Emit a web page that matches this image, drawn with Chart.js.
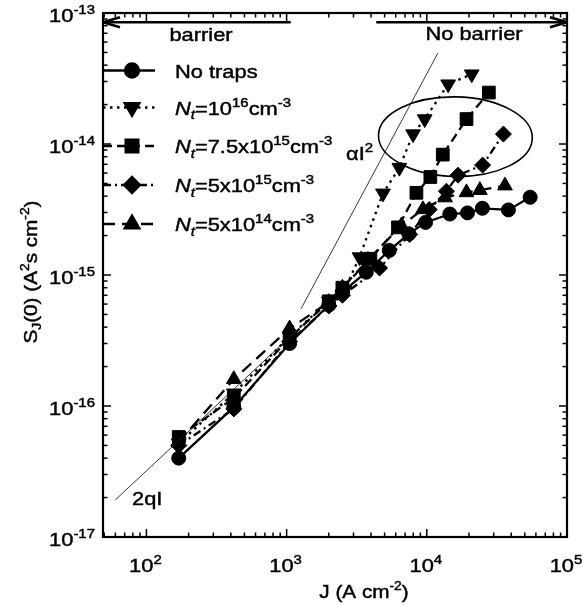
<!DOCTYPE html>
<html>
<head>
<meta charset="utf-8">
<script src="https://cdn.jsdelivr.net/npm/chart.js@4.4.0/dist/chart.umd.min.js"></script>
<style>
  html, body { margin: 0; padding: 0; background: #fff; }
</style>
</head>
<body>
<canvas id="myChart" width="587" height="605"></canvas>
<script>
(() => {
  "use strict";

  // J (A cm^-2) and S_J(0) (A^2 s cm^-2)
  const noTrapsJ = [170, 420, 1050, 2000, 2500, 3700, 5400, 7450, 9800, 14600, 19500, 24900, 38200, 54600];
  const noTrapsS = [4.0e-17, 9.8e-17, 3.0e-16, 5.9e-16, 7.4e-16, 1.05e-15, 1.54e-15, 2.06e-15, 2.52e-15, 2.92e-15, 2.98e-15, 3.23e-15, 3.14e-15, 3.92e-15];

  const nt16J = [170, 420, 1050, 2000, 2580, 3310, 4870, 6370, 7980, 9660, 14200, 20900];
  const nt16S = [5.2e-17, 1.25e-16, 3.4e-16, 6.3e-16, 7.6e-16, 1.37e-15, 4.2e-15, 6.6e-15, 1.19e-14, 1.55e-14, 2.86e-14, 3.41e-14];

  const nt75J = [170, 420, 1050, 2000, 2500, 3960, 6230, 8430, 10600, 13000, 19200, 27700];
  const nt75S = [5.8e-17, 1.15e-16, 3.3e-16, 6.3e-16, 8.0e-16, 1.33e-15, 2.31e-15, 4.24e-15, 5.6e-15, 8.3e-15, 1.55e-14, 2.47e-14];

  const nt5J = [170, 420, 1050, 2000, 2500, 4600, 7550, 10400, 13800, 16700, 25000, 35200];
  const nt5S = [5.0e-17, 9.5e-17, 3.1e-16, 5.8e-16, 7.0e-16, 1.13e-15, 2.04e-15, 3.16e-15, 4.36e-15, 5.78e-15, 6.9e-15, 1.19e-14];

  const nt14J = [170, 420, 1050, 2000, 2500, 3800, 6580, 9380, 13500, 19200, 23900, 36100];
  const nt14S = [5.3e-17, 1.6e-16, 3.9e-16, 6.2e-16, 8.0e-16, 1.3e-15, 2.38e-15, 3.17e-15, 3.9e-15, 4.27e-15, 4.44e-15, 4.81e-15];

  // reference lines: shot noise 2qI and alpha*I^2
  const shotJ = [60, 1300];
  const shotS = [1.92e-17, 4.16e-16];
  const quadJ = [1265, 12000];
  const quadS = [5.5e-16, 4.95e-14];

  // "barrier" / "No barrier" arrows and the ellipse (data coords)
  const arrowS = 8.5e-14;
  const barrierJ = [49, 1070];
  const noBarrierJ = [4360, 1e5];
  const ellipseJ = [4520, 56600];
  const ellipseS = [5.65e-15, 2.29e-14];

  const xTickExp = [2, 3, 4, 5];
  const yTickExp = [-17, -16, -15, -14, -13];

  const SX = 1.15;
  const FONT = '"Liberation Sans", Arial, Helvetica, sans-serif';

  const pts = (xs, ys) => xs.map((x, i) => ({ x: x, y: ys[i] }));

  function runFont(mode, size) {
    const small = mode.includes("^") || mode.includes("_");
    const s = small ? Math.round(size * 0.66) : size;
    return (mode.includes("i") ? "italic " : "") + s + "px " + FONT;
  }
  function runShift(mode, size) {
    if (mode.includes("^")) return -size * 0.42;
    if (mode.includes("_")) return size * 0.24;
    return 0;
  }
  // text with super/subscripts, stretched a little sideways like the scan
  function drawRich(ctx, parts, x, y, size, align, angle) {
    ctx.save();
    ctx.translate(x, y);
    if (angle) ctx.rotate(angle);
    ctx.scale(SX, 1);
    let w = 0;
    parts.forEach(([t, m]) => { ctx.font = runFont(m, size); w += ctx.measureText(t).width; });
    let cx = align === "right" ? -w : align === "center" ? -w / 2 : 0;
    ctx.textBaseline = "alphabetic";
    ctx.textAlign = "left";
    ctx.fillStyle = "#000";
    ctx.strokeStyle = "#000";
    ctx.lineWidth = 0.45;
    ctx.setLineDash([]);
    parts.forEach(([t, m]) => {
      ctx.font = runFont(m, size);
      ctx.fillText(t, cx, runShift(m, size));
      ctx.strokeText(t, cx, runShift(m, size));
      cx += ctx.measureText(t).width;
    });
    ctx.restore();
  }

  const series = [
    { label: [["No traps", ""]], J: noTrapsJ, S: noTrapsS, style: "circle", r: 7, rot: 0, dash: [] },
    { label: [["N", "i"], ["t", "i_"], ["=10", ""], ["16", "^"], ["cm", ""], ["-3", "^"]], J: nt16J, S: nt16S, style: "triangle", r: 8.5, rot: 180, dash: [2.5, 4.5] },
    { label: [["N", "i"], ["t", "i_"], ["=7.5x10", ""], ["15", "^"], ["cm", ""], ["-3", "^"]], J: nt75J, S: nt75S, style: "rect", r: 9, rot: 0, dash: [9, 5] },
    { label: [["N", "i"], ["t", "i_"], ["=5x10", ""], ["15", "^"], ["cm", ""], ["-3", "^"]], J: nt5J, S: nt5S, style: "rectRot", r: 8, rot: 0, dash: [8, 4, 2, 4] },
    { label: [["N", "i"], ["t", "i_"], ["=5x10", ""], ["14", "^"], ["cm", ""], ["-3", "^"]], J: nt14J, S: nt14S, style: "triangle", r: 8.5, rot: 0, dash: [12, 7] },
  ];
  const legendRows = [70.5, 107.5, 146, 185, 224];

  const datasets = [
    { data: pts(shotJ, shotS), borderColor: "#222", borderWidth: 0.9, pointRadius: 0, showLine: true },
    { data: pts(quadJ, quadS), borderColor: "#222", borderWidth: 0.9, pointRadius: 0, showLine: true },
  ];
  series.forEach((s) => {
    datasets.push({
      data: pts(s.J, s.S),
      showLine: true,
      borderColor: "#000",
      borderWidth: 2.3,
      borderDash: s.dash,
      pointStyle: s.style,
      pointRadius: s.r,
      pointRotation: s.rot,
      pointBackgroundColor: "#000",
      pointBorderColor: "#000",
      pointBorderWidth: 1,
    });
  });

  const decor = {
    id: "decor",
    afterDraw(chart) {
      const ctx = chart.ctx;
      const xs = chart.scales.x, ys = chart.scales.y, a = chart.chartArea;
      ctx.save();
      ctx.strokeStyle = "#000";
      ctx.setLineDash([]);
      const line = (x1, y1, x2, y2) => { ctx.beginPath(); ctx.moveTo(x1, y1); ctx.lineTo(x2, y2); ctx.stroke(); };

      // inward ticks on all sides
      ctx.lineWidth = 1.5;
      for (let e = 1; e <= 5; e++) {
        for (let m = 1; m <= 9; m++) {
          const v = m * Math.pow(10, e);
          if (v < xs.min * 1.001 || v > xs.max * 1.001) continue;
          const px = xs.getPixelForValue(v);
          const len = m === 1 ? 8 : 4.5;
          line(px, a.bottom, px, a.bottom - len);
          line(px, a.top, px, a.top + len);
        }
      }
      for (let e = -17; e <= -13; e++) {
        for (let m = 1; m <= 9; m++) {
          const v = m * Math.pow(10, e);
          if (v < ys.min * 0.999 || v > ys.max * 1.001) continue;
          const py = ys.getPixelForValue(v);
          const len = m === 1 ? 8 : 4.5;
          line(a.left, py, a.left + len, py);
          line(a.right, py, a.right - len, py);
        }
      }
      ctx.lineWidth = 2.2;
      ctx.strokeRect(a.left, a.top, a.right - a.left, a.bottom - a.top);

      // tick labels
      xTickExp.forEach((e) => {
        drawRich(ctx, [["10", ""], [String(e), "^"]], xs.getPixelForValue(Math.pow(10, e)) - 1, 572, 19, "center");
      });
      yTickExp.forEach((e) => {
        drawRich(ctx, [["10", ""], [String(e), "^"]], 95, ys.getPixelForValue(Math.pow(10, e)) + 9, 19, "right");
      });

      // axis titles
      drawRich(ctx, [["J (A cm", ""], ["-2", "^"], [")", ""]], 364, 598, 18, "center");
      drawRich(ctx, [["S", ""], ["J", "_"], ["(0) (A", ""], ["2", "^"], ["s cm", ""], ["-2", "^"], [")", ""]], 37, 272, 18, "center", -Math.PI / 2);

      // arrows
      const ay = ys.getPixelForValue(arrowS);
      ctx.lineWidth = 2.5;
      const bl = xs.getPixelForValue(barrierJ[0]), br = xs.getPixelForValue(barrierJ[1]);
      line(bl, ay, br, ay);
      line(bl, ay, bl + 17, ay - 5); line(bl, ay, bl + 17, ay + 5);
      const nl = xs.getPixelForValue(noBarrierJ[0]), nr = xs.getPixelForValue(noBarrierJ[1]);
      line(nl, ay, nr, ay);
      line(nr, ay, nr - 17, ay - 5); line(nr, ay, nr - 17, ay + 5);
      drawRich(ctx, [["barrier", ""]], 201, 40.5, 19, "center");
      drawRich(ctx, [["No barrier", ""]], 474, 39.5, 19, "center");

      // ellipse around the trap-dominated points
      const exl = xs.getPixelForValue(ellipseJ[0]), exr = xs.getPixelForValue(ellipseJ[1]);
      const eyb = ys.getPixelForValue(ellipseS[0]), eyt = ys.getPixelForValue(ellipseS[1]);
      ctx.lineWidth = 1.6;
      ctx.beginPath();
      ctx.ellipse((exl + exr) / 2, (eyb + eyt) / 2, (exr - exl) / 2, (eyb - eyt) / 2, 0.02, 0, Math.PI * 2);
      ctx.stroke();

      drawRich(ctx, [["\u03b1I", ""], ["2", "^"]], 346, 160, 19, "left");
      drawRich(ctx, [["2qI", ""]], 132, 505, 19, "left");

      // legend
      series.forEach((s, i) => {
        const y = legendRows[i];
        ctx.lineWidth = 2.3;
        ctx.strokeStyle = "#000";
        ctx.setLineDash(s.dash);
        line(a.left, y, 155, y);
        ctx.setLineDash([]);
        ctx.fillStyle = "#000";
        Chart.helpers.drawPoint(ctx, { pointStyle: s.style, radius: s.r, rotation: s.rot, borderWidth: 1 }, 132, y);
        drawRich(ctx, s.label, 175, y + 7, 19, "left");
      });
      ctx.restore();
    },
  };

  const ctx = document.getElementById("myChart");
  // eslint-disable-next-line no-unused-vars
  const myChart = new Chart(ctx, {
    type: "scatter",
    data: { datasets: datasets },
    options: {
      responsive: false,
      animation: false,
      events: [],
      layout: { padding: { left: 103, right: 20, top: 13, bottom: 68 } },
      scales: {
        x: { type: "logarithmic", min: 49, max: 1e5, display: false },
        y: { type: "logarithmic", min: 1e-17, max: 1e-13, display: false },
      },
      plugins: {
        legend: { display: false },
        tooltip: { enabled: false },
      },
    },
    plugins: [decor],
  });
})();
</script>
</body>
</html>
